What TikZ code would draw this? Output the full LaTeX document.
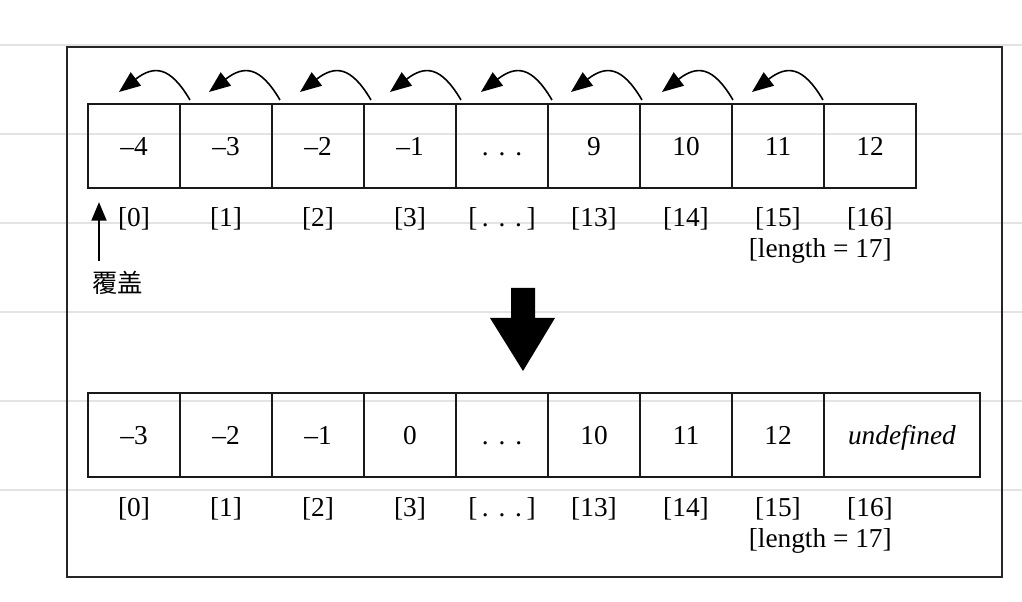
\documentclass[tikz,border=0pt]{standalone}
\usepackage{fontspec}
\setmainfont{Liberation Serif}
\newfontfamily\cjk{Noto Sans CJK SC}
\usetikzlibrary{arrows.meta}
\newcommand{\dotsgap}{.\hspace{0.36em}.\hspace{0.36em}.}
\begin{document}
\begin{tikzpicture}[x=0.75pt,y=-0.75pt,
  cell/.style={draw=black!90, line width=1.3pt, minimum width=69pt, minimum height=63pt, inner sep=0pt, outer sep=0pt, text height=15pt, text depth=0pt, font=\fontsize{20.5}{24}\selectfont},
  idx/.style={inner sep=0pt, font=\fontsize{20.5}{24}\selectfont},
  curv/.style={line width=1.2pt, -{Triangle[length=16pt,width=12.5pt]}},
  uparr/.style={line width=2.2pt, -{Triangle[length=14pt,width=11pt]}},
  scan/.style={black!11, line width=1.2pt}]
\useasboundingbox (0,0) rectangle (1022,602);
\fill[white] (0,0) rectangle (1022,602);
\foreach \y in {45,134,223,312,401,490} \draw[scan] (0,\y) -- (1022,\y);
\draw[line width=1.5pt, black!85] (67,47) rectangle (1002,577);
% top array
\foreach \v [count=\i from 0] in {–4,–3,–2,–1,\dotsgap,9,10,11,12}
  \node[cell] (t\i) at ({134+92*\i},146) {\v};
\foreach \l [count=\i from 0] in {0,1,2,3,\,\dotsgap\,,13,14,15,16}
  \node[idx, anchor=base] (ti\i) at ({134+92*\i},227) {[\l]};
\node[idx, anchor=base east] (tl) at (892,258) {[length = 17]};
% curved arrows
\foreach \x [count=\i] in {190,280,371,461,552,642,733,823} {
  \coordinate (s\i) at (\x,100);
  \coordinate (e\i) at (\x-71,92);
  \draw[curv] (s\i) .. controls +(-20,-34) and +(35,-27) .. (e\i);
}
% cover arrow
\node[inner sep=0pt, anchor=west, font=\cjk\fontsize{19}{22}\selectfont] (cover) at (92,283) {覆盖};
\coordinate (upstart) at (99,261);
\coordinate (upend) at (99,202);
\draw[uparr] (upstart) -- (upend);
% big down arrow
\fill (511,288) -- (535,288) -- (535,318) -- (555,318) -- (523,371) -- (490,318) -- (511,318) -- cycle;
% bottom array
\foreach \v [count=\i from 0] in {–3,–2,–1,0,\dotsgap,10,11,12}
  \node[cell] (b\i) at ({134+92*\i},435) {\v};
\node[cell, minimum width=117pt] (b8) at (902,435) {\textit{undefined}};
\foreach \l [count=\i from 0] in {0,1,2,3,\,\dotsgap\,,13,14,15,16}
  \node[idx, anchor=base] (bi\i) at ({134+92*\i},517) {[\l]};
\node[idx, anchor=base east] (bl) at (892,547) {[length = 17]};
\end{tikzpicture}
\end{document}
